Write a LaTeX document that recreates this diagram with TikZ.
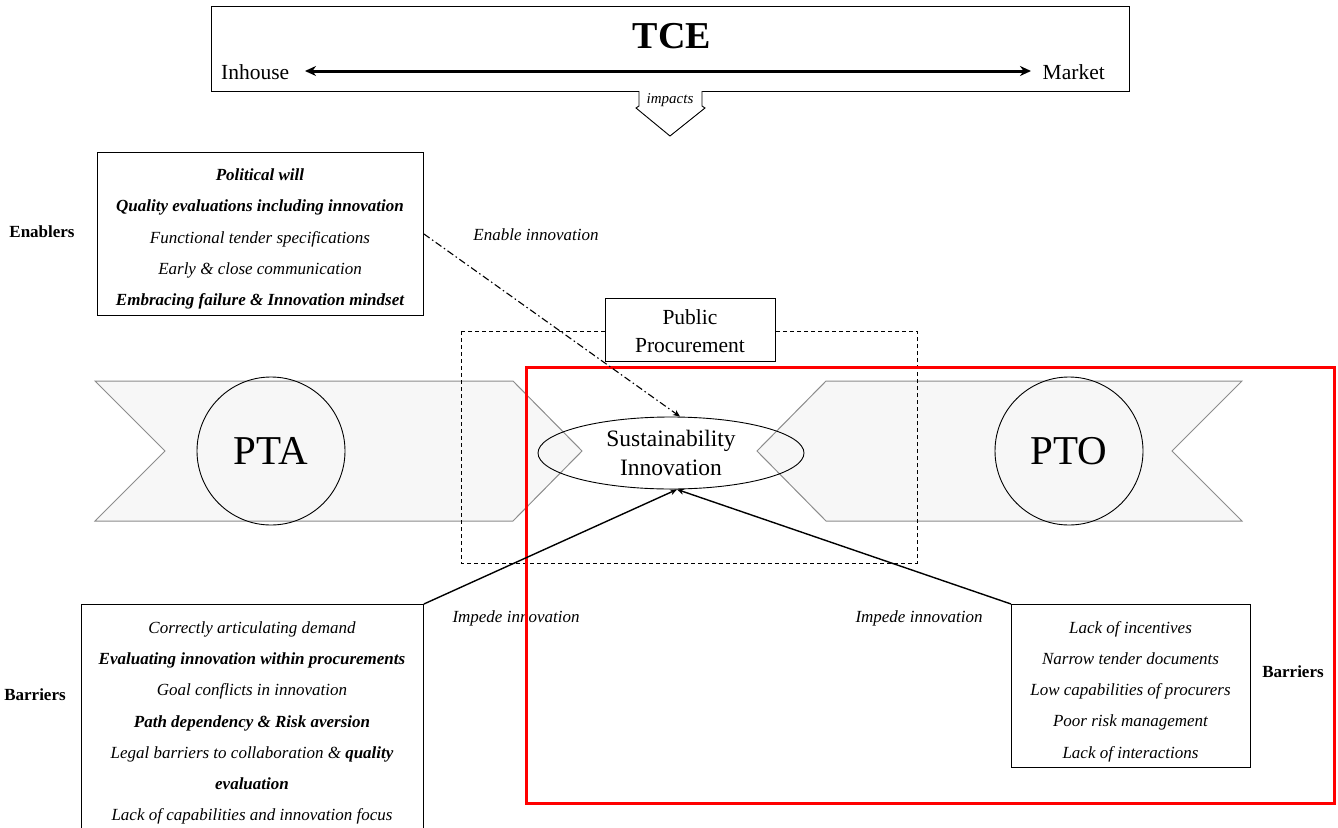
\documentclass[tikz,border=0pt]{standalone}
\usepackage{fontspec}
\setmainfont{Liberation Serif}
\usetikzlibrary{arrows.meta,shapes.geometric}
\definecolor{chevfill}{HTML}{F7F7F7}
\definecolor{chevline}{HTML}{8C8C8C}
\begin{document}
\begin{tikzpicture}[x=1pt,y=-1pt,
  box/.style={draw, line width=0.9pt, inner sep=0pt, anchor=north west},
  lst/.style={font=\fontsize{17}{31.2}\selectfont\itshape, align=center, inner sep=0pt},
  side/.style={font=\fontsize{17}{20}\selectfont\bfseries, inner sep=0pt},
  lbl/.style={font=\fontsize{17}{20}\selectfont\itshape, inner sep=0pt},
  chev/.style={draw=chevline, fill=chevfill, line width=1pt},
  big/.style={circle, draw, line width=0.9pt, minimum size=148pt, inner sep=0pt, font=\fontsize{41}{41}\selectfont},
  conn/.style={line width=1.4pt, -{Stealth[length=7pt,width=6pt]}}
]
\useasboundingbox (0,0) rectangle (1338,827);
\clip (0,0) rectangle (1338,827);

% TCE box
\node[box, minimum width=918pt, minimum height=85pt] (tce) at (211,6) {};
\node[font=\fontsize{38}{38}\selectfont\bfseries] (tcet) at (672,36) {TCE};
\node[font=\fontsize{21.5}{22}\selectfont, inner sep=0pt, anchor=west] (inh) at (221,72) {Inhouse};
\node[font=\fontsize{21.5}{22}\selectfont, inner sep=0pt, anchor=east] (mkt) at (1105,72) {Market};
\coordinate (ia) at (305,71);
\coordinate (ib) at (1031,71);
\draw[line width=3pt, {Stealth[length=11pt,width=10pt]}-{Stealth[length=11pt,width=10pt]}] (ia) -- (ib);

% impacts block arrow
\draw[fill=white, line width=0.9pt] (639,91) -- (639,106) -- (636,108) -- (670,136) -- (705,108) -- (702,106) -- (702,91);
\node[font=\fontsize{15}{16}\selectfont\itshape, inner sep=0pt] (imp) at (670,100) {impacts};

% chevrons
\draw[chev] (95,381) -- (513,381) -- (582,451) -- (513,521) -- (95,521) -- (165,451) -- cycle;
\draw[chev] (757,451) -- (826,381) -- (1242,381) -- (1172,451) -- (1242,521) -- (826,521) -- cycle;
\node[big] (pta) at (271,451) {PTA};
\node[big] (pto) at (1069,451) {PTO};

% sustainability innovation
\node[ellipse, draw, line width=0.9pt, minimum width=266pt, minimum height=72pt, inner sep=0pt,
  font=\fontsize{23.5}{29}\selectfont, align=center] (si) at (671,453) {Sustainability\\Innovation};

% public procurement
\draw[dashed, line width=0.9pt, dash pattern=on 4pt off 3pt] (461,331) rectangle (917,563);
\node[box, fill=white, minimum width=170pt, minimum height=63pt] (pp) at (605,298) {};
\node[font=\fontsize{21.5}{28}\selectfont, align=center, inner sep=0pt] (ppt) at (690,331) {Public\\Procurement};

% enablers
\node[box, minimum width=326pt, minimum height=163pt] (en) at (97,152) {};
\node[lst] (ent) at (260,239) {\textbf{Political will}\\
\textbf{Quality evaluations including innovation}\\
Functional tender specifications\\
Early \& close communication\\
\textbf{Embracing failure \& Innovation mindset}};
\node[side] (enl) at (42,232) {Enablers};
\node[lbl] (enal) at (536,235) {Enable innovation};

% left barriers
\node[box, minimum width=342pt, minimum height=240pt] (lb) at (81,604) {};
\node[lst] (lbt) at (252,723) {Correctly articulating demand\\
\textbf{Evaluating innovation within procurements}\\
Goal conflicts in innovation\\
\textbf{Path dependency \& Risk aversion}\\
Legal barriers to collaboration \& \textbf{quality}\\
\textbf{evaluation}\\
Lack of capabilities and innovation focus};
\node[side] (lbl) at (35,695) {Barriers};

% right barriers
\node[box, minimum width=239pt, minimum height=163pt] (rb) at (1011,604) {};
\node[lst] (rbt) at (1130.5,691.5) {Lack of incentives\\
Narrow tender documents\\
Low capabilities of procurers\\
Poor risk management\\
Lack of interactions};
\node[side] (rbl) at (1293,672) {Barriers};

\node[lbl] (im1) at (516,618) {Impede innovation};
\node[lbl] (im2) at (919,618) {Impede innovation};

% red frame
\draw[red, line width=3pt] (526,367) rectangle (1334,803);

% connectors
\draw[line width=1.1pt, dash pattern=on 7pt off 3pt on 1.5pt off 3pt, -{Stealth[length=7pt,width=6pt]}]
  (en.east) -- ([xshift=9pt]si.north);
\draw[conn] (lb.north east) -- ([xshift=6pt]si.south);
\draw[conn] (rb.north west) -- ([xshift=6pt]si.south);
\end{tikzpicture}
\end{document}
